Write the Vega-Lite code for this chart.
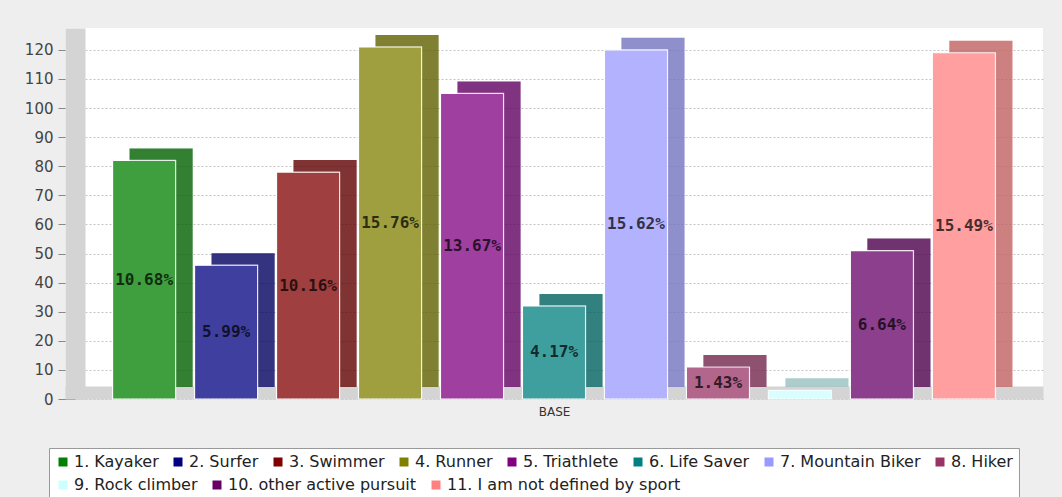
{
  "$schema": "https://vega.github.io/schema/vega-lite/v6.json",
  "autosize": "none",
  "padding": {"left": 65, "top": 28, "right": 19, "bottom": 98},
  "width": 978,
  "height": 371,
  "background": "#eeeeee",
  "config": {"view": {"fill": "white", "stroke": null}, "font": "DejaVu Sans"},
  "data": {
    "values": [
      {"sport": "1. Kayaker", "count": 82, "pct": "10.68%"},
      {"sport": "2. Surfer", "count": 46, "pct": "5.99%"},
      {"sport": "3. Swimmer", "count": 78, "pct": "10.16%"},
      {"sport": "4. Runner", "count": 121, "pct": "15.76%"},
      {"sport": "5. Triathlete", "count": 105, "pct": "13.67%"},
      {"sport": "6. Life Saver", "count": 32, "pct": "4.17%"},
      {"sport": "7. Mountain Biker", "count": 120, "pct": "15.62%"},
      {"sport": "8. Hiker", "count": 11, "pct": "1.43%"},
      {"sport": "9. Rock climber", "count": 3, "pct": ""},
      {"sport": "10. other active pursuit", "count": 51, "pct": "6.64%"},
      {"sport": "11. I am not defined by sport", "count": 119, "pct": "15.49%"}
    ]
  },
  "transform": [{"calculate": "datum.count / 2", "as": "half"}],
  "encoding": {
    "x": {
      "field": "sport",
      "type": "nominal",
      "sort": null,
      "scale": {
        "domain": ["1. Kayaker", "2. Surfer", "3. Swimmer", "4. Runner", "5. Triathlete", "6. Life Saver", "7. Mountain Biker", "8. Hiker", "9. Rock climber", "10. other active pursuit", "11. I am not defined by sport"],
        "paddingInner": 0.23,
        "paddingOuter": 0.58
      },
      "axis": {
        "labels": false,
        "ticks": false,
        "title": "BASE",
        "titleFont": "DejaVu Sans",
        "titleFontSize": 12,
        "titleFontWeight": "normal",
        "titleColor": "#333",
        "titlePadding": 14,
        "domainColor": "#d4d4d4",
        "domainWidth": 13,
        "offset": -6.5,
        "zindex": 0
      }
    },
    "y": {
      "field": "count",
      "type": "quantitative",
      "scale": {"domain": [0, 127.5], "nice": false},
      "axis": {
        "title": null,
        "values": [0, 10, 20, 30, 40, 50, 60, 70, 80, 90, 100, 110, 120],
        "offset": -10,
        "domainWidth": 20,
        "domainColor": "#d4d4d4",
        "tickSize": 17,
        "tickColor": "#888",
        "labelPadding": 5,
        "labelFont": "DejaVu Sans",
        "labelFontSize": 15,
        "labelColor": "#444",
        "grid": true,
        "gridDash": [2, 2],
        "gridColor": "#c4c4c4",
        "zindex": 0
      }
    }
  },
  "layer": [
    {
      "mark": {"type": "bar", "xOffset": 17, "yOffset": -12, "opacity": 0.75},
      "encoding": {
        "color": {
          "field": "sport",
          "type": "nominal",
          "sort": null,
          "scale": {
            "domain": ["1. Kayaker", "2. Surfer", "3. Swimmer", "4. Runner", "5. Triathlete", "6. Life Saver", "7. Mountain Biker", "8. Hiker", "9. Rock climber", "10. other active pursuit", "11. I am not defined by sport"],
            "range": ["#008000", "#000080", "#800000", "#808000", "#800080", "#008080", "#9999FF", "#993366", "#CCFFFF", "#660066", "#FF8080"]
          },
          "legend": {
            "title": " ",
            "titleOrient": "bottom",
            "titleFontSize": 16,
            "titlePadding": 6,
            "values": ["1. Kayaker", "2. Surfer", "3. Swimmer", "4. Runner", "5. Triathlete", "6. Life Saver", "7. Mountain Biker", "8. Hiker"],
            "orient": "none",
            "legendX": -16,
            "legendY": 420,
            "direction": "horizontal",
            "symbolType": "square",
            "symbolSize": 81,
            "symbolStrokeWidth": 0,
            "symbolOpacity": 1,
            "labelFont": "DejaVu Sans",
            "labelFontSize": 16,
            "labelColor": "#222",
            "labelOffset": 3,
            "labelLimit": 400,
            "columnPadding": 11,
            "padding": 6,
            "strokeColor": "#999",
            "fillColor": "white"
          }
        }
      }
    },
    {
      "mark": {"type": "bar", "xOffset": 17, "yOffset": -12},
      "encoding": {"color": {"value": "black"}, "opacity": {"value": 0.2}}
    },
    {
      "mark": {"type": "bar"},
      "encoding": {"color": {"value": "white"}}
    },
    {
      "transform": [{"filter": {"not": {"field": "sport", "oneOf": ["9. Rock climber", "10. other active pursuit", "11. I am not defined by sport"]}}}],
      "mark": {"type": "bar", "opacity": 0.75, "stroke": "white", "strokeWidth": 1.2},
      "encoding": {
        "color": {
          "field": "sport",
          "type": "nominal",
          "sort": null,
          "scale": {
            "domain": ["1. Kayaker", "2. Surfer", "3. Swimmer", "4. Runner", "5. Triathlete", "6. Life Saver", "7. Mountain Biker", "8. Hiker", "9. Rock climber", "10. other active pursuit", "11. I am not defined by sport"],
            "range": ["#008000", "#000080", "#800000", "#808000", "#800080", "#008080", "#9999FF", "#993366", "#CCFFFF", "#660066", "#FF8080"]
          },
          "legend": {
            "title": " ",
            "titleOrient": "bottom",
            "titleFontSize": 16,
            "titlePadding": 6,
            "values": ["1. Kayaker", "2. Surfer", "3. Swimmer", "4. Runner", "5. Triathlete", "6. Life Saver", "7. Mountain Biker", "8. Hiker"],
            "orient": "none",
            "legendX": -16,
            "legendY": 420,
            "direction": "horizontal",
            "symbolType": "square",
            "symbolSize": 81,
            "symbolStrokeWidth": 0,
            "symbolOpacity": 1,
            "labelFont": "DejaVu Sans",
            "labelFontSize": 16,
            "labelColor": "#222",
            "labelOffset": 3,
            "labelLimit": 400,
            "columnPadding": 11,
            "padding": 6,
            "strokeColor": "#999",
            "fillColor": "white"
          }
        }
      }
    },
    {
      "transform": [{"filter": {"field": "sport", "oneOf": ["9. Rock climber", "10. other active pursuit", "11. I am not defined by sport"]}}],
      "mark": {"type": "bar", "opacity": 0.75, "stroke": "white", "strokeWidth": 1.2},
      "encoding": {
        "fill": {
          "field": "sport",
          "type": "nominal",
          "sort": null,
          "scale": {
            "domain": ["9. Rock climber", "10. other active pursuit", "11. I am not defined by sport"],
            "range": ["#CCFFFF", "#660066", "#FF8080"]
          },
          "legend": {
            "title": null,
            "orient": "none",
            "legendX": -16,
            "legendY": 443,
            "direction": "horizontal",
            "symbolType": "square",
            "symbolSize": 81,
            "symbolStrokeWidth": 0,
            "symbolOpacity": 1,
            "labelFont": "DejaVu Sans",
            "labelFontSize": 16,
            "labelColor": "#222",
            "labelOffset": 3,
            "labelLimit": 400,
            "columnPadding": 11,
            "padding": 6
          }
        }
      }
    },
    {
      "mark": {"type": "text", "font": "DejaVu Sans Mono", "fontWeight": "bold", "fontSize": 16},
      "encoding": {
        "y": {"field": "half", "type": "quantitative"},
        "text": {"field": "pct"},
        "color": {"value": "black"},
        "opacity": {"value": 0.72}
      }
    }
  ]
}
